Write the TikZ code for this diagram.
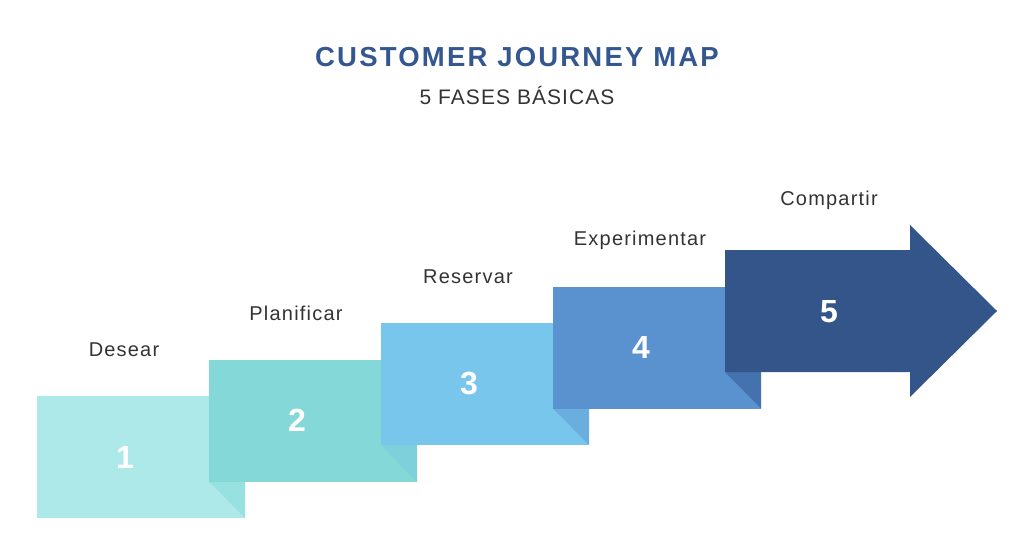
\documentclass[tikz,border=0pt]{standalone}
\usepackage{fontspec}
\setmainfont{Liberation Sans}
\begin{document}
\begin{tikzpicture}[x=1pt,y=-1pt,
    stagenum/.style={text=white,font=\fontsize{32}{32}\selectfont\bfseries},
    stagelbl/.style={text=labelgray,font=\fontsize{20}{20}\selectfont\addfontfeature{LetterSpace=6}}]
        \definecolor{stageA}{HTML}{ACE9E8}
        \definecolor{stageB}{HTML}{84D8D7}
        \definecolor{stageC}{HTML}{78C6EC}
        \definecolor{stageD}{HTML}{5A91CF}
        \definecolor{stageE}{HTML}{335589}
        \definecolor{foldA}{HTML}{97E1E0}
        \definecolor{foldB}{HTML}{7ED0DA}
        \definecolor{foldC}{HTML}{69AEDF}
        \definecolor{foldD}{HTML}{4472AE}
        \definecolor{titleblue}{HTML}{33578E}
        \definecolor{labelgray}{HTML}{333333}
        \useasboundingbox (0,0) rectangle (1024,556);
        \node[text=titleblue,font=\fontsize{27.5}{28}\selectfont\bfseries\addfontfeature{LetterSpace=8}] (title) at (517,57) {CUSTOMER JOURNEY MAP};
        \node[text=labelgray,font=\fontsize{21}{22}\selectfont\addfontfeature{LetterSpace=5}] (subtitle) at (517,95) {5 FASES BÁSICAS};
        \foreach \i/\c/\f/\n/\t in {0/stageA/foldA/1/Desear,1/stageB/foldB/2/Planificar,
                                     2/stageC/foldC/3/Reservar,3/stageD/foldD/4/Experimentar} {
            \pgfmathsetmacro\xl{37+172*\i}
            \pgfmathsetmacro\yt{396-36.5*\i}
            \fill[\c] (\xl,\yt) rectangle ++(208,122);
            \fill[\f] (\xl+172,\yt+85.5) -- (\xl+208,\yt+85.5) -- (\xl+208,\yt+122) -- cycle;
            \node[stagenum] (num\n) at (\xl+88,\yt+61) {\n};
            \node[stagelbl] (lbl\n) at (\xl+87,\yt-46) {\t};
        }
        \fill[stageE] (725,250) -- (910,250) -- (910,225) -- (997,311) -- (910,397) -- (910,372) -- (725,372) -- cycle;
        \node[stagenum] (num5) at (829,312) {5};
        \node[stagelbl] (lbl5) at (829,200) {Compartir};
    \end{tikzpicture}
\end{document}
